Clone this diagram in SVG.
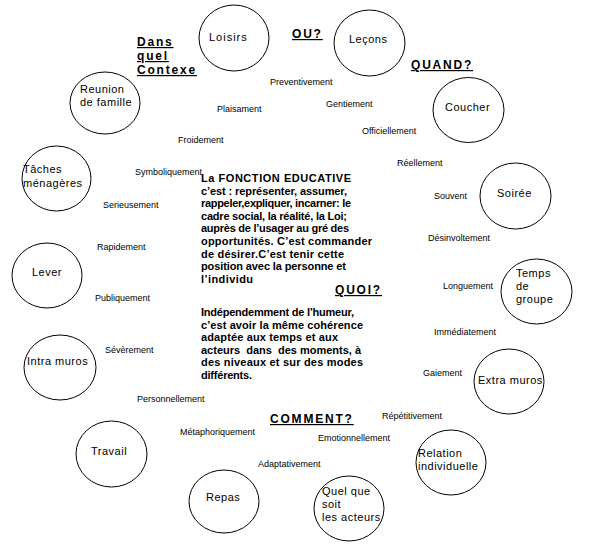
<svg xmlns="http://www.w3.org/2000/svg" width="589" height="558" viewBox="0 0 589 558">
<style>
.c{fill:none;stroke:#000;stroke-width:1}
.n{font-family:"Liberation Sans",Arial,sans-serif;font-size:11px;fill:#000;letter-spacing:0.5px}
.l{font-family:"Liberation Sans",Arial,sans-serif;font-size:9px;fill:#000}
.h{font-family:"Liberation Sans",Arial,sans-serif;font-size:12px;font-weight:bold;fill:#000;letter-spacing:1.8px;text-decoration:underline}
.b{font-family:"Liberation Sans",Arial,sans-serif;font-size:11px;font-weight:bold;fill:#000}
</style>
<rect width="589" height="558" fill="#fff"/>
<g id="connectors"></g>
<g id="loisirs"><ellipse class="c" cx="234" cy="38" rx="35" ry="33"/><text class="n" x="209" y="41" style="letter-spacing:1px">Loisirs</text></g>
<g id="lecons"><ellipse class="c" cx="369.5" cy="43" rx="35.5" ry="33"/><text class="n" x="349" y="43">Leçons</text></g>
<g id="coucher"><ellipse class="c" cx="468.5" cy="110" rx="35.5" ry="32.5"/><text class="n" x="445" y="111">Coucher</text></g>
<g id="reunion"><ellipse class="c" cx="105" cy="103" rx="35" ry="31"/><text class="n" x="80" y="93">Reunion</text><text class="n" x="80" y="106">de famille</text></g>
<g id="taches"><ellipse class="c" cx="56.5" cy="178.5" rx="34.5" ry="32.5"/><text class="n" x="23" y="173">Tâches</text><text class="n" x="23" y="187">ménagères</text></g>
<g id="lever"><ellipse class="c" cx="47" cy="275.5" rx="35" ry="32.5"/><text class="n" x="32" y="276">Lever</text></g>
<g id="soiree"><ellipse class="c" cx="515.5" cy="196" rx="35.5" ry="33"/><text class="n" x="497" y="197">Soirée</text></g>
<g id="temps"><ellipse class="c" cx="536.5" cy="291.5" rx="35.5" ry="32.5"/><text class="n" x="516" y="277">Temps</text><text class="n" x="516" y="290">de</text><text class="n" x="516" y="303">groupe</text></g>
<g id="intra"><ellipse class="c" cx="60" cy="367.5" rx="36" ry="32.5"/><text class="n" x="27" y="365">Intra muros</text></g>
<g id="travail"><ellipse class="c" cx="111.5" cy="454" rx="35.5" ry="33"/><text class="n" x="91" y="455">Travail</text></g>
<g id="repas"><ellipse class="c" cx="224" cy="501.5" rx="35" ry="31.5"/><text class="n" x="206" y="501">Repas</text></g>
<g id="extra"><ellipse class="c" cx="509" cy="381.5" rx="35" ry="32.5"/><text class="n" x="478" y="384">Extra muros</text></g>
<g id="relation"><ellipse class="c" cx="451" cy="462.5" rx="35" ry="32.5"/><text class="n" x="418" y="457">Relation</text><text class="n" x="418" y="470">individuelle</text></g>
<g id="quel"><ellipse class="c" cx="349" cy="508.5" rx="35" ry="32.5"/><text class="n" x="322" y="495">Quel que</text><text class="n" x="322" y="508">soit</text><text class="n" x="322" y="521">les acteurs</text></g>
<g id="headings">
<text class="h" x="137" y="46">Dans</text>
<text class="h" x="137" y="60">quel</text>
<text class="h" x="137" y="74">Contexe</text>
<text class="h" x="292" y="38">OU?</text>
<text class="h" x="411" y="69">QUAND?</text>
<text class="h" x="335" y="294">QUOI?</text>
<text class="h" x="270" y="423">COMMENT?</text>
</g>
<g id="labels">
<text class="l" x="270" y="85">Preventivement</text>
<text class="l" x="217" y="112">Plaisament</text>
<text class="l" x="326" y="107">Gentiement</text>
<text class="l" x="362" y="134">Officiellement</text>
<text class="l" x="178" y="143">Froidement</text>
<text class="l" x="397" y="166">Réellement</text>
<text class="l" x="135" y="175">Symboliquement</text>
<text class="l" x="103" y="208">Serieusement</text>
<text class="l" x="97" y="250">Rapidement</text>
<text class="l" x="95" y="301">Publiquement</text>
<text class="l" x="105" y="353">Sévèrement</text>
<text class="l" x="137" y="402">Personnellement</text>
<text class="l" x="180" y="435">Métaphoriquement</text>
<text class="l" x="258" y="467">Adaptativement</text>
<text class="l" x="434" y="199">Souvent</text>
<text class="l" x="428" y="241">Désinvoltement</text>
<text class="l" x="443" y="289">Longuement</text>
<text class="l" x="434" y="335">Immédiatement</text>
<text class="l" x="423" y="376">Gaiement</text>
<text class="l" x="382" y="419">Répétitivement</text>
<text class="l" x="318" y="441">Emotionnellement</text>
</g>
<g id="texte">
<text class="b" x="201" y="182" textLength="150" lengthAdjust="spacing">La FONCTION EDUCATIVE</text>
<text class="b" x="201" y="194.6" textLength="146" lengthAdjust="spacing">c’est : représenter, assumer,</text>
<text class="b" x="201" y="207.2" textLength="150" lengthAdjust="spacing">rappeler,expliquer, incarner: le</text>
<text class="b" x="201" y="219.8" textLength="146" lengthAdjust="spacing">cadre social, la réalité, la Loi;</text>
<text class="b" x="201" y="232.4" textLength="148" lengthAdjust="spacing">auprès de l’usager au gré des</text>
<text class="b" x="201" y="245" textLength="171" lengthAdjust="spacing">opportunités. C’est commander</text>
<text class="b" x="201" y="257.6" textLength="143" lengthAdjust="spacing">de désirer.C’est tenir cette</text>
<text class="b" x="201" y="270.2" textLength="145" lengthAdjust="spacing">position avec la personne et</text>
<text class="b" x="201" y="282.8" textLength="52" lengthAdjust="spacing">l’individu</text>
<text class="b" x="201" y="316" textLength="153" lengthAdjust="spacing">Indépendemment de l’humeur,</text>
<text class="b" x="201" y="328.6" textLength="162" lengthAdjust="spacing">c’est avoir la même cohérence</text>
<text class="b" x="201" y="341.2" textLength="137" lengthAdjust="spacing">adaptée aux temps et aux</text>
<text class="b" x="201" y="353.8" textLength="160" lengthAdjust="spacing" xml:space="preserve">acteurs  dans  des moments, à</text>
<text class="b" x="201" y="366.4" textLength="162" lengthAdjust="spacing">des niveaux et sur des modes</text>
<text class="b" x="201" y="379" textLength="51" lengthAdjust="spacing">différents.</text>
</g>
</svg>
